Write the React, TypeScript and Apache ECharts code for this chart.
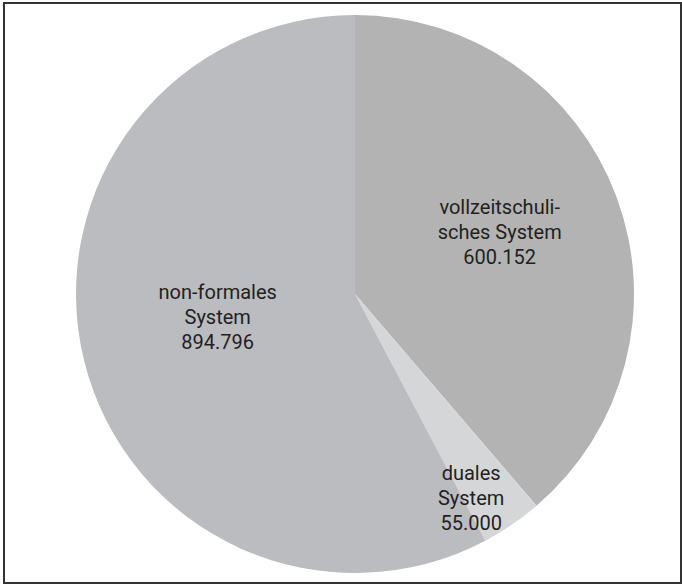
import React, { useEffect, useRef } from "react";
import * as echarts from "echarts";

const categories = ["vollzeitschuli-\nsches System", "duales\nSystem", "non-formales\nSystem"];
const values = [600152, 55000, 894796];
const valueLabels = ["600.152", "55.000", "894.796"];
const colors = ["#b3b3b3", "#d5d6d8", "#bbbcc0"];
const labelOffsets: [number, number][] = [[11, -13], [36, 86], [1, -11]];

export default function App() {
  const ref = useRef<HTMLDivElement>(null);
  useEffect(() => {
    document.body.style.margin = "0";
    const chart = echarts.init(ref.current!, null, { renderer: "svg" });
    chart.setOption({
      animation: false,
      backgroundColor: "#ffffff",
      graphic: [
        {
          type: "rect",
          shape: { x: 4, y: 3, width: 677, height: 580 },
          style: { fill: "none", stroke: "#333333", lineWidth: 2 },
          silent: true,
        },
      ],
      series: [
        {
          type: "pie",
          center: [355, 294],
          radius: [0, 279],
          startAngle: 90,
          clockwise: true,
          silent: true,
          label: {
            show: true,
            position: "inside",
            color: "#231f20",
            fontFamily: "Roboto, 'Liberation Sans', sans-serif",
            fontSize: 20,
            lineHeight: 25,
            align: "center",
          },
          labelLine: { show: false },
          itemStyle: { borderWidth: 0 },
          data: values.map((v, i) => ({
            value: v,
            name: categories[i],
            itemStyle: { color: colors[i] },
            label: {
              formatter: categories[i] + "\n" + valueLabels[i],
              offset: labelOffsets[i],
            },
          })),
        },
      ],
    });
    return () => chart.dispose();
  }, []);
  return <div ref={ref} style={{ width: 682, height: 585 }} />;
}
